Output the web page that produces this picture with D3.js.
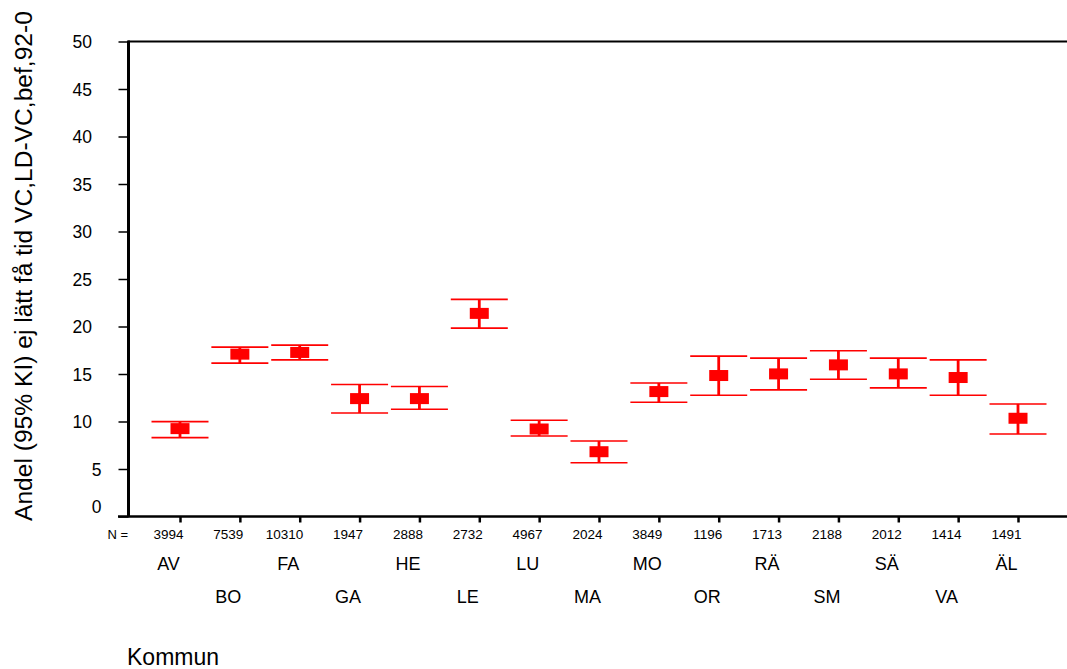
<!DOCTYPE html>
<html>
<head>
<meta charset="utf-8">
<script src="https://cdn.jsdelivr.net/npm/d3@7/dist/d3.min.js"></script>
<style>
  html, body { margin: 0; padding: 0; background: #fff; }
  svg { display: block; font-family: Arial, "Liberation Sans", sans-serif; }
</style>
</head>
<body>
<svg id="chart" width="1067" height="669"></svg>
<script>
const categories = ["AV","BO","FA","GA","HE","LE","LU","MA","MO","OR","RÄ","SM","SÄ","VA","ÄL"];
const nValues   = [3994, 7539, 10310, 1947, 2888, 2732, 4967, 2024, 3849, 1196, 1713, 2188, 2012, 1414, 1491];
const means     = [9.25, 17.09, 17.27, 12.41, 12.41, 21.38, 9.21, 6.82, 13.15, 14.84, 15.01, 15.96, 15.01, 14.63, 10.34];
const lowerCI   = [8.30, 16.14, 16.49, 10.90, 11.29, 19.83, 8.47, 5.66, 12.03, 12.76, 13.33, 14.45, 13.54, 12.76, 8.68];
const upperCI   = [9.99, 17.83, 18.04, 13.89, 13.68, 22.86, 10.13, 7.94, 14.06, 16.88, 16.67, 17.44, 16.67, 16.49, 11.85];
const yTicks    = [0, 5, 10, 15, 20, 25, 30, 35, 40, 45, 50];

const yLabel = "Andel (95% KI) ej lätt få tid VC,LD-VC,bef,92-0";
const xLabel = "Kommun";

const svg = d3.select("#chart");
const red = "#ff0000";
const FONT = "Arial, 'Liberation Sans', sans-serif";

const x = d3.scalePoint().domain(categories).range([180, 1018]);
const y = d3.scaleLinear().domain([0, 50]).range([516.5, 41.5]);

const data = categories.map((c, i) => ({c, n: nValues[i], m: means[i], lo: lowerCI[i], hi: upperCI[i], i}));

// Top frame line
svg.append("line")
  .attr("x1", 128).attr("x2", 1067).attr("y1", y(50)).attr("y2", y(50))
  .attr("stroke", "#000").attr("stroke-width", 2);

// Y axis
const yAxis = d3.axisLeft(y).tickValues(yTicks).tickSize(10).tickPadding(16).tickFormat(d3.format("d"));
const yg = svg.append("g").attr("transform", "translate(128.5,0)").call(yAxis);
yg.select(".domain").remove();
yg.selectAll(".tick line").attr("stroke", "#000").attr("stroke-width", 1.5);
yg.selectAll(".tick text")
  .attr("fill", "#000")
  .style("font-size", "17.5px")
  .style("font-family", FONT)
  .attr("x", d => d < 10 ? -27 : -36.5)
  .attr("dy", d => d === 0 ? "-0.22em" : "0.35em");
svg.append("line")
  .attr("x1", 128.5).attr("x2", 128.5).attr("y1", y(50) - 1).attr("y2", y(0))
  .attr("stroke", "#000").attr("stroke-width", 3);

// X axis
const xAxis = d3.axisBottom(x).tickSize(6).tickFormat(() => "");
const xg = svg.append("g").attr("transform", `translate(0,${y(0)})`).call(xAxis);
xg.select(".domain").remove();
xg.selectAll(".tick line").attr("stroke", "#000").attr("stroke-width", 2.5);
svg.append("line")
  .attr("x1", 118).attr("x2", 1067).attr("y1", y(0)).attr("y2", y(0))
  .attr("stroke", "#000").attr("stroke-width", 2.5);

// N row
svg.append("text").attr("x", 128).attr("y", 539).attr("text-anchor", "end")
  .style("font-size", "13px").text("N =");
svg.selectAll("text.nval").data(data).enter().append("text")
  .attr("class", "nval")
  .attr("x", d => x(d.c) + 3.5).attr("y", 539).attr("text-anchor", "end")
  .style("font-size", "13.5px").text(d => d.n);

// Category labels, alternating rows
svg.selectAll("text.cat").data(data).enter().append("text")
  .attr("class", "cat")
  .attr("x", d => x(d.c) - 11.5).attr("y", d => d.i % 2 === 0 ? 570 : 603)
  .attr("text-anchor", "middle")
  .style("font-size", "18px").text(d => d.c);

// Axis titles
svg.append("text").attr("x", 127).attr("y", 665).style("font-size", "23px").text(xLabel);
svg.append("text")
  .attr("transform", "translate(32,521) rotate(-90)")
  .attr("text-anchor", "start")
  .style("font-size", "24.6px").text(yLabel);

// Error bars
const capW = 57;
const g = svg.append("g");
const bars = g.selectAll("g.eb").data(data).enter().append("g").attr("class", "eb");
bars.append("line")
  .attr("x1", d => x(d.c)).attr("x2", d => x(d.c))
  .attr("y1", d => y(d.hi)).attr("y2", d => y(d.lo))
  .attr("stroke", red).attr("stroke-width", 2.8);
bars.append("line")
  .attr("x1", d => x(d.c) - capW / 2).attr("x2", d => x(d.c) + capW / 2)
  .attr("y1", d => y(d.hi)).attr("y2", d => y(d.hi))
  .attr("stroke", red).attr("stroke-width", 1.6);
bars.append("line")
  .attr("x1", d => x(d.c) - capW / 2).attr("x2", d => x(d.c) + capW / 2)
  .attr("y1", d => y(d.lo)).attr("y2", d => y(d.lo))
  .attr("stroke", red).attr("stroke-width", 1.6);
bars.append("rect")
  .attr("x", d => x(d.c) - 9.5).attr("y", d => y(d.m) - 5.5)
  .attr("width", 19).attr("height", 11)
  .attr("fill", red);
</script>
</body>
</html>
